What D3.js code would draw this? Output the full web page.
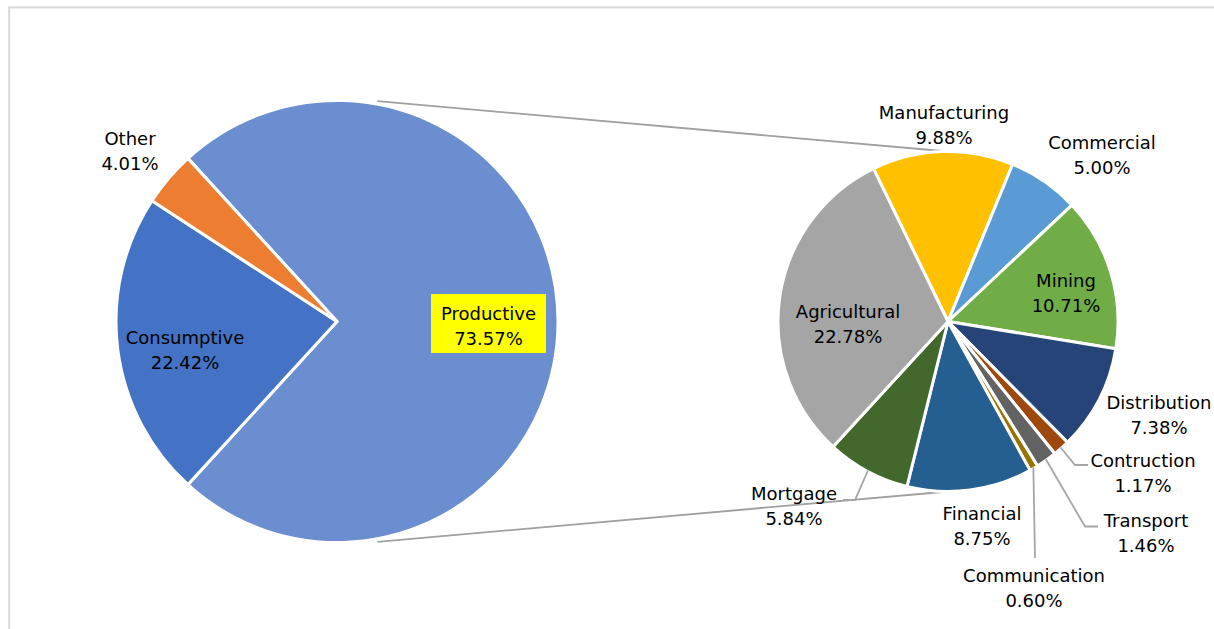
<!DOCTYPE html>
<html>
<head>
<meta charset="utf-8">
<script src="https://cdn.jsdelivr.net/npm/d3@7"></script>
<style>
  html, body { margin: 0; padding: 0; background: #fff; }
  text { font-family: "DejaVu Sans", Verdana, sans-serif; font-size: 18px; fill: #000; }
</style>
</head>
<body>
<svg id="chart"></svg>
<script>
// Primary pie (share of total credit)
const primaryNames = ["Productive", "Consumptive", "Other"];
const primaryValues = [73.57, 22.42, 4.01];
const primaryColors = ["#6a8ecf", "#4472c4", "#ed7d31"];

// Secondary pie (breakdown of Productive)
const secondaryNames = ["Manufacturing", "Commercial", "Mining", "Distribution", "Contruction",
  "Transport", "Communication", "Financial", "Mortgage", "Agricultural"];
const secondaryValues = [9.88, 5.00, 10.71, 7.38, 1.17, 1.46, 0.60, 8.75, 5.84, 22.78];
const secondaryColors = ["#ffc000", "#5b9bd5", "#70ad47", "#264478", "#9e480e",
  "#636363", "#997300", "#255e91", "#43682b", "#a5a5a5"];

const width = 1214;
const height = 629;

const left = { cx: 337, cy: 321.5, r: 221 };
const right = { cx: 948, cy: 321.5, r: 170 };

// label anchor (centre x, first baseline) relative to each pie centre
const labelPos = {
  Productive: [151.5, -1.5], Consumptive: [-152, 22], Other: [-207, -176.5],
  Manufacturing: [-4, -202.5], Commercial: [154, -173], Mining: [118, -35],
  Distribution: [211, 87], Contruction: [195, 145], Transport: [198, 205],
  Communication: [86, 260], Financial: [34, 198.5], Mortgage: [-154, 178.5],
  Agricultural: [-100, -3.5]
};
// leader lines: elbow and end points relative to the right pie centre
const leaders = {
  Contruction: [[127, 143.5], [140, 143.5]],
  Transport: [[137, 205], [150, 205]],
  Communication: [[87, 236.5]],
  Mortgage: [[-93, 178.5], [-105, 178.5]]
};

const svg = d3.select("#chart").attr("width", width).attr("height", height);

// chart area border
svg.append("rect")
  .attr("x", 9.2).attr("y", 7.4)
  .attr("width", width).attr("height", height)
  .attr("fill", "none").attr("stroke", "#d9d9d9").attr("stroke-width", 2);

const fmt = d3.format(".2f");

// connector lines between the pies
const tip = 10.4 * Math.PI / 180;
const lr = left.r + 3;
[-1, 1].forEach((s) => {
  svg.append("line")
    .attr("x1", left.cx + lr * Math.sin(tip))
    .attr("y1", left.cy + s * lr * Math.cos(tip))
    .attr("x2", right.cx)
    .attr("y2", right.cy + s * right.r)
    .attr("stroke", "#a0a0a0").attr("stroke-width", 1.8);
});

// primary pie
const pSum = d3.sum(primaryValues);
const pStart = Math.PI / 2 - (primaryValues[0] / pSum) * Math.PI;
const pie1 = d3.pie().sort(null).value((d) => d.value)
  .startAngle(pStart).endAngle(pStart + 2 * Math.PI);
const arc1 = d3.arc().innerRadius(0).outerRadius(left.r);
const pData = primaryNames.map((n, i) => ({ name: n, value: primaryValues[i], color: primaryColors[i] }));

const g1 = svg.append("g").attr("transform", `translate(${left.cx},${left.cy})`);
g1.selectAll("path")
  .data(pie1(pData))
  .enter()
  .append("path")
  .attr("d", arc1)
  .attr("fill", (d) => d.data.color)
  .attr("stroke", "#fff")
  .attr("stroke-width", 3)
  .attr("stroke-linejoin", "round");

// secondary pie
const sStart = -26 * Math.PI / 180;
const pie2 = d3.pie().sort(null).value((d) => d.value)
  .startAngle(sStart).endAngle(sStart + 2 * Math.PI);
const arc2 = d3.arc().innerRadius(0).outerRadius(right.r);
const sData = secondaryNames.map((n, i) => ({ name: n, value: secondaryValues[i], color: secondaryColors[i] }));

const g2 = svg.append("g").attr("transform", `translate(${right.cx},${right.cy})`);
const arcs2 = pie2(sData);
g2.selectAll("path")
  .data(arcs2)
  .enter()
  .append("path")
  .attr("d", arc2)
  .attr("fill", (d) => d.data.color)
  .attr("stroke", "#fff")
  .attr("stroke-width", 3)
  .attr("stroke-linejoin", "round");

// leader lines start at the slice's outer edge, mid angle
arcs2.filter((d) => leaders[d.data.name]).forEach((d) => {
  const a = (d.startAngle + d.endAngle) / 2;
  const r0 = right.r - 1;
  const pts = [[r0 * Math.sin(a), -r0 * Math.cos(a)]].concat(leaders[d.data.name]);
  g2.append("path")
    .attr("d", d3.line()(pts))
    .attr("fill", "none")
    .attr("stroke", "#a6a6a6")
    .attr("stroke-width", 1.8);
});

// labels
function addLabel(g, name, value, highlight) {
  const [x, y] = labelPos[name];
  if (highlight) {
    g.append("rect")
      .attr("x", x - 57.5).attr("y", y - 26)
      .attr("width", 115).attr("height", 59)
      .attr("fill", "#ffff00");
  }
  const t = g.append("text").attr("text-anchor", "middle");
  t.append("tspan").attr("x", x).attr("y", y).text(name);
  t.append("tspan").attr("x", x).attr("y", y + 25).text(fmt(value) + "%");
}

pData.forEach((d) => addLabel(g1, d.name, d.value, d.name === "Productive"));
sData.forEach((d) => addLabel(g2, d.name, d.value, false));
</script>
</body>
</html>
